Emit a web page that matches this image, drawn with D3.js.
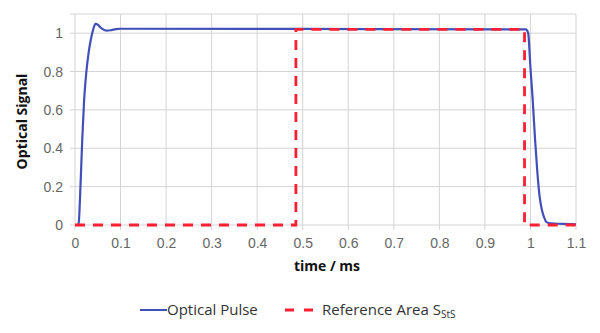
<!DOCTYPE html>
<html>
<head>
<meta charset="utf-8">
<script src="https://d3js.org/d3.v7.min.js"></script>
<style>
  body { margin: 0; background: #fff; }
  svg { display: block; font-family: "Open Sans", "DejaVu Sans", sans-serif; }
</style>
</head>
<body>
<svg id="chart" width="600" height="333"></svg>
<script>
// optical pulse
const pulseTime = [0, 0.005, 0.008, 0.012, 0.016, 0.02, 0.025, 0.03, 0.035, 0.04, 0.045, 0.05, 0.055, 0.06, 0.07, 0.08, 0.09, 0.1, 0.5, 0.99, 0.995, 1.0, 1.005, 1.01, 1.015, 1.02, 1.025, 1.03, 1.035, 1.045, 1.07, 1.1];
const pulseSignal = [0, 0, 0.01, 0.2, 0.45, 0.65, 0.8, 0.9, 0.97, 1.02, 1.049, 1.045, 1.032, 1.022, 1.013, 1.016, 1.021, 1.023, 1.022, 1.02, 1.0, 0.82, 0.65, 0.45, 0.28, 0.15, 0.08, 0.04, 0.015, 0.008, 0.006, 0.004];

// reference area (rectangle)
const refTime = [0, 0.485, 0.485, 0.987, 0.987, 1.1];
const refSignal = [0, 0, 1.02, 1.02, 0, 0];

const xTicks = [0, 0.1, 0.2, 0.3, 0.4, 0.5, 0.6, 0.7, 0.8, 0.9, 1, 1.1];
const yTicks = [0, 0.2, 0.4, 0.6, 0.8, 1];

const margin = { left: 75, right: 24, top: 14, bottom: 108 };
const width = 600, height = 333;

const svg = d3.select("#chart");

const x = d3.scaleLinear().domain([0, 1.1]).range([margin.left, width - margin.right]);
const y = d3.scaleLinear().domain([0, 1.1]).range([height - margin.bottom, margin.top]);

// grid
const grid = svg.append("g").attr("stroke", "#d4d4d4").attr("stroke-width", 1);
xTicks.forEach(t => {
    grid.append("line")
        .attr("x1", x(t)).attr("x2", x(t))
        .attr("y1", y(1.1)).attr("y2", y(0) + 5);
});
yTicks.concat([1.1]).forEach(t => {
    grid.append("line")
        .attr("x1", x(0) - 5).attr("x2", x(1.1))
        .attr("y1", y(t)).attr("y2", y(t));
});

// axes labels
const xAxis = svg.append("g")
    .attr("transform", `translate(0,${y(0) + 8})`)
    .call(d3.axisBottom(x).tickValues(xTicks).tickSize(0).tickFormat(d3.format("~g")));
xAxis.select(".domain").remove();
xAxis.selectAll("text").attr("fill", "#666").attr("font-size", 14).attr("dy", "0.85em");

const yAxis = svg.append("g")
    .attr("transform", `translate(${x(0) - 9},0)`)
    .call(d3.axisLeft(y).tickValues(yTicks).tickSize(0).tickFormat(d3.format("~g")));
yAxis.select(".domain").remove();
yAxis.selectAll("text").attr("fill", "#666").attr("font-size", 14);

// titles
svg.append("text")
    .attr("x", 327).attr("y", 271)
    .attr("text-anchor", "middle")
    .attr("font-size", 14).attr("font-weight", "bold").attr("fill", "#111")
    .text("time / ms");

svg.append("text")
    .attr("transform", `translate(27,${(y(0) + y(1.1)) / 2 + 2}) rotate(-90)`)
    .attr("text-anchor", "middle")
    .attr("font-size", 14).attr("font-weight", "bold").attr("fill", "#111")
    .text("Optical Signal");

// lines
const line = d3.line().x(d => x(d[0])).y(d => y(d[1]));

svg.append("path")
    .datum(pulseTime.map((t, i) => [t, pulseSignal[i]]))
    .attr("d", line.curve(d3.curveMonotoneX))
    .attr("fill", "none")
    .attr("stroke", "#4150b8")
    .attr("stroke-width", 2.2);

svg.append("path")
    .datum(refTime.map((t, i) => [t, refSignal[i]]))
    .attr("d", d3.line().x(d => x(d[0])).y(d => y(d[1])))
    .attr("fill", "none")
    .attr("stroke", "#ff1f33")
    .attr("stroke-width", 2.8)
    .attr("stroke-dasharray", "10,8");

// legend
const lg = svg.append("g").attr("font-size", 15).attr("fill", "#333");
lg.append("line")
    .attr("x1", 140).attr("x2", 167).attr("y1", 310).attr("y2", 310)
    .attr("stroke", "#4150b8").attr("stroke-width", 2);
lg.append("text").attr("x", 167).attr("y", 315).attr("fill", "#333").text("Optical Pulse");

lg.append("line")
    .attr("x1", 285).attr("x2", 313).attr("y1", 310).attr("y2", 310)
    .attr("stroke", "#ff1f33").attr("stroke-width", 2.8)
    .attr("stroke-dasharray", "9,10");
const refLabel = lg.append("text").attr("x", 322).attr("y", 315).attr("fill", "#333");
refLabel.append("tspan").text("Reference Area S");
refLabel.append("tspan").attr("font-size", 10).attr("dy", 3).text("StS");
</script>
</body>
</html>
